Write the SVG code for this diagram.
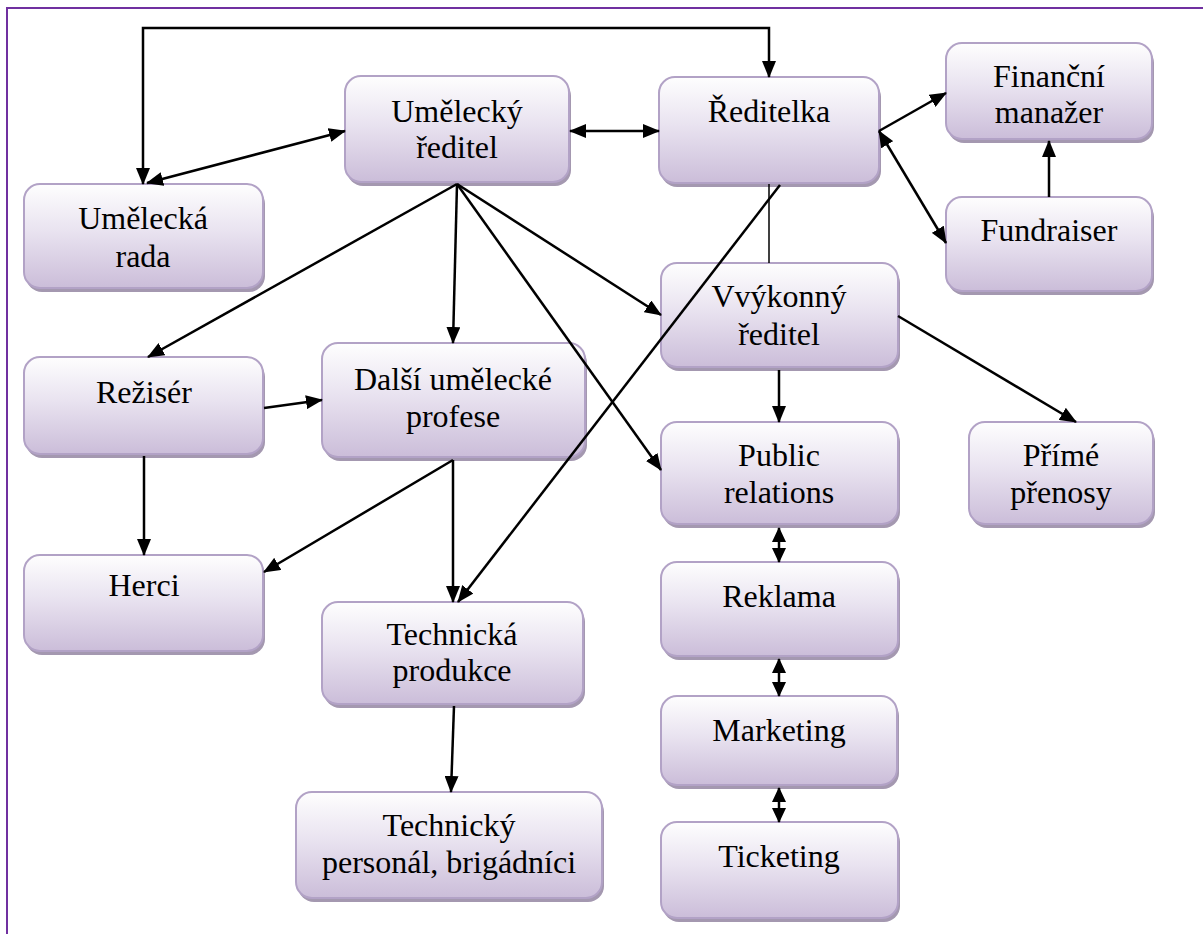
<svg xmlns="http://www.w3.org/2000/svg" width="1203" height="934" viewBox="0 0 1203 934">
<defs>
<linearGradient id="g" x1="0" y1="0" x2="0" y2="1">
<stop offset="0" stop-color="#fefefe"/>
<stop offset="0.45" stop-color="#e9e3f0"/>
<stop offset="1" stop-color="#cbbdd9"/>
</linearGradient>
<marker id="a" markerUnits="userSpaceOnUse" markerWidth="18" markerHeight="14" refX="16" refY="7" orient="auto-start-reverse" viewBox="0 0 18 14">
<path d="M0,0 L17,7 L0,14 z" fill="#000"/>
</marker>
<marker id="s" markerUnits="userSpaceOnUse" markerWidth="16" markerHeight="14" refX="14" refY="7" orient="auto-start-reverse" viewBox="0 0 16 14">
<path d="M0,0 L15,7 L0,14 z" fill="#000"/>
</marker>
</defs>
<style>
.sh{fill:#a498b0}
.bx{fill:url(#g);stroke:#b2a2c6;stroke-width:2}
.t{font-family:"Liberation Serif","Times New Roman",serif;font-size:32px;fill:#000;text-anchor:middle}
.c{stroke:#000;stroke-width:2.5;fill:none}
.e{marker-end:url(#a)}
.b{marker-start:url(#a);marker-end:url(#a)}
.bs{marker-start:url(#s);marker-end:url(#s)}
</style>
<rect width="1203" height="934" fill="#fff"/>
<path d="M7,934 L7,8 L1203,8" fill="none" stroke="#7030a0" stroke-width="2"/>

<g id="umelecky-reditel">
<rect class="sh" x="347" y="80" width="224" height="106" rx="16"/>
<rect class="bx" x="345" y="76" width="224" height="106" rx="16"/>
<text class="t" x="457" y="122">Umělecký</text>
<text class="t" x="457" y="158">ředitel</text>
</g>
<g id="reditelka">
<rect class="sh" x="661" y="81" width="220" height="106" rx="16"/>
<rect class="bx" x="659" y="77" width="220" height="106" rx="16"/>
<text class="t" x="769" y="122">Ředitelka</text>
</g>
<g id="financni-manazer">
<rect class="sh" x="948" y="47" width="206" height="96" rx="16"/>
<rect class="bx" x="946" y="43" width="206" height="96" rx="16"/>
<text class="t" x="1049" y="87">Finanční</text>
<text class="t" x="1049" y="123">manažer</text>
</g>
<g id="fundraiser">
<rect class="sh" x="948" y="201" width="206" height="94" rx="16"/>
<rect class="bx" x="946" y="197" width="206" height="94" rx="16"/>
<text class="t" x="1049" y="241">Fundraiser</text>
</g>
<g id="umelecka-rada">
<rect class="sh" x="26" y="188" width="239" height="104" rx="16"/>
<rect class="bx" x="24" y="184" width="239" height="104" rx="16"/>
<text class="t" x="143" y="229">Umělecká</text>
<text class="t" x="143" y="267">rada</text>
</g>
<g id="reziser">
<rect class="sh" x="26" y="361" width="239" height="97" rx="16"/>
<rect class="bx" x="24" y="357" width="239" height="97" rx="16"/>
<text class="t" x="144" y="403">Režisér</text>
</g>
<g id="dalsi-umelecke-profese">
<rect class="sh" x="324" y="347" width="263" height="114" rx="16"/>
<rect class="bx" x="322" y="343" width="263" height="114" rx="16"/>
<text class="t" x="453" y="390">Další umělecké</text>
<text class="t" x="453" y="427">profese</text>
</g>
<g id="herci">
<rect class="sh" x="26" y="559" width="239" height="96" rx="16"/>
<rect class="bx" x="24" y="555" width="239" height="96" rx="16"/>
<text class="t" x="144" y="596">Herci</text>
</g>
<g id="technicka-produkce">
<rect class="sh" x="324" y="606" width="261" height="102" rx="16"/>
<rect class="bx" x="322" y="602" width="261" height="102" rx="16"/>
<text class="t" x="452" y="645">Technická</text>
<text class="t" x="452" y="681">produkce</text>
</g>
<g id="technicky-personal">
<rect class="sh" x="298" y="796" width="306" height="106" rx="16"/>
<rect class="bx" x="296" y="792" width="306" height="106" rx="16"/>
<text class="t" x="449" y="836">Technický</text>
<text class="t" x="449" y="873">personál, brigádníci</text>
</g>
<g id="vykonny-reditel">
<rect class="sh" x="663" y="267" width="237" height="104" rx="16"/>
<rect class="bx" x="661" y="263" width="237" height="104" rx="16"/>
<text class="t" x="779" y="307">Vvýkonný</text>
<text class="t" x="779" y="345">ředitel</text>
</g>
<g id="public-relations">
<rect class="sh" x="663" y="426" width="237" height="102" rx="16"/>
<rect class="bx" x="661" y="422" width="237" height="102" rx="16"/>
<text class="t" x="779" y="466">Public</text>
<text class="t" x="779" y="503">relations</text>
</g>
<g id="reklama">
<rect class="sh" x="663" y="566" width="237" height="94" rx="16"/>
<rect class="bx" x="661" y="562" width="237" height="94" rx="16"/>
<text class="t" x="779" y="607">Reklama</text>
</g>
<g id="marketing">
<rect class="sh" x="663" y="700" width="236" height="89" rx="16"/>
<rect class="bx" x="661" y="696" width="236" height="89" rx="16"/>
<text class="t" x="779" y="741">Marketing</text>
</g>
<g id="ticketing">
<rect class="sh" x="663" y="826" width="237" height="96" rx="16"/>
<rect class="bx" x="661" y="822" width="237" height="96" rx="16"/>
<text class="t" x="779" y="867">Ticketing</text>
</g>
<g id="prime-prenosy">
<rect class="sh" x="971" y="426" width="184" height="102" rx="16"/>
<rect class="bx" x="969" y="422" width="184" height="102" rx="16"/>
<text class="t" x="1061" y="466">Přímé</text>
<text class="t" x="1061" y="503">přenosy</text>
</g>

<g id="connectors">
<path class="c b" d="M143,184 L143,28 L769,28 L769,77"/>
<path class="c b" d="M147,183 L345,131"/>
<path class="c b" d="M570,131 L659,131"/>
<path class="c e" d="M879,131 L946,93"/>
<path class="c b" d="M879,131 L946,243"/>
<path class="c e" d="M1049,197 L1049,141"/>
<path d="M769,184 L769,263" stroke="#000" stroke-width="1.5" fill="none"/>
<path class="c e" d="M780,185 L458,602"/>
<path class="c e" d="M457,184 L148,357"/>
<path class="c e" d="M457,184 L453,343"/>
<path class="c e" d="M457,184 L661,470"/>
<path class="c e" d="M457,184 L661,315"/>
<path class="c e" d="M264,408 L322,400"/>
<path class="c e" d="M144,456 L144,555"/>
<path class="c e" d="M453,460 L264,572"/>
<path class="c e" d="M453,460 L453,602"/>
<path class="c e" d="M779,370 L779,422"/>
<path class="c e" d="M898,316 L1076,422"/>
<path class="c e" d="M454,706 L451,792"/>
<path class="c bs" d="M779,528 L779,562"/>
<path class="c bs" d="M779,659 L779,696"/>
<path class="c bs" d="M779,788 L779,822"/>
</g>
</svg>
